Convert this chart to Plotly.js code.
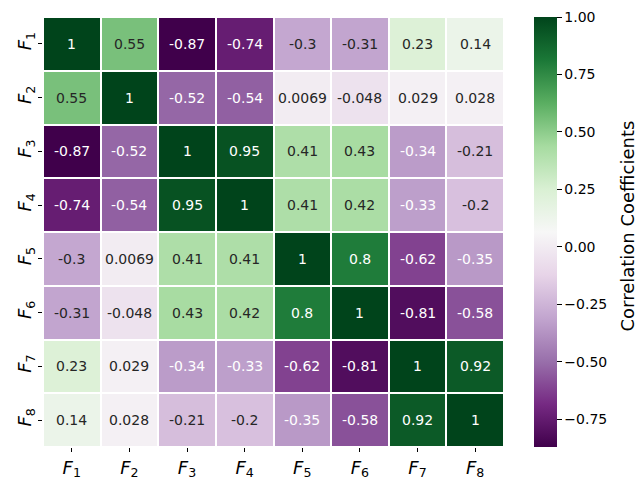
<!DOCTYPE html>
<html>
<head>
<meta charset="utf-8">
<script src="https://cdn.plot.ly/plotly-3.0.1.min.js"></script>
<style>html,body{margin:0;padding:0;background:#fff;}#chart{width:637px;height:481px;}</style>
</head>
<body>
<div id="chart"></div>
<script>
const labels = ["<i>F</i><sub>1</sub>","<i>F</i><sub>2</sub>","<i>F</i><sub>3</sub>","<i>F</i><sub>4</sub>","<i>F</i><sub>5</sub>","<i>F</i><sub>6</sub>","<i>F</i><sub>7</sub>","<i>F</i><sub>8</sub>"];
const rowF1 = [1, 0.55, -0.87, -0.74, -0.3, -0.31, 0.23, 0.14];
const rowF2 = [0.55, 1, -0.52, -0.54, 0.0069, -0.048, 0.029, 0.028];
const rowF3 = [-0.87, -0.52, 1, 0.95, 0.41, 0.43, -0.34, -0.21];
const rowF4 = [-0.74, -0.54, 0.95, 1, 0.41, 0.42, -0.33, -0.2];
const rowF5 = [-0.3, 0.0069, 0.41, 0.41, 1, 0.8, -0.62, -0.35];
const rowF6 = [-0.31, -0.048, 0.43, 0.42, 0.8, 1, -0.81, -0.58];
const rowF7 = [0.23, 0.029, -0.34, -0.33, -0.62, -0.81, 1, 0.92];
const rowF8 = [0.14, 0.028, -0.21, -0.2, -0.35, -0.58, 0.92, 1];
const z = [rowF1,rowF2,rowF3,rowF4,rowF5,rowF6,rowF7,rowF8];
const cbTicks = [-0.75,-0.5,-0.25,0,0.25,0.5,0.75,1.0];
const cbTitle = "Correlation Coefficients";

const prgn = ["#40004b","#762a83","#9970ab","#c2a5cf","#e7d4e8","#f7f7f7","#d9f0d3","#a6dba0","#5aae61","#1b7837","#00441b"];
const colorscale = prgn.map((c,i)=>[i/(prgn.length-1), c]);

let zmin = Infinity, zmax = -Infinity;
z.forEach(r=>r.forEach(v=>{zmin=Math.min(zmin,v);zmax=Math.max(zmax,v);}));

function hex(c){return [1,3,5].map(k=>parseInt(c.substr(k,2),16));}
function colorAt(v){
  let t=(v-zmin)/(zmax-zmin); t=Math.max(0,Math.min(1,t));
  const p=t*(prgn.length-1); const i=Math.min(Math.floor(p),prgn.length-2); const f=p-i;
  const a=hex(prgn[i]), b=hex(prgn[i+1]);
  return a.map((x,k)=>x+(b[k]-x)*f);
}
function lum(rgb){
  const c=rgb.map(x=>{x/=255;return x<=0.03928?x/12.92:Math.pow((x+0.055)/1.055,2.4);});
  return 0.2126*c[0]+0.7152*c[1]+0.0722*c[2];
}
function fmt(v){return String(Number(v.toPrecision(2)));}

const annotations=[];
z.forEach((row,i)=>row.forEach((v,j)=>{
  annotations.push({x:labels[j],y:labels[i],xref:'x',yref:'y',text:fmt(v),showarrow:false,
    font:{family:'DejaVu Sans',size:14,color:lum(colorAt(v))>0.408?'#262626':'#ffffff'}});
}));
annotations.push({xref:'paper',yref:'paper',x:1.268,y:0.514,xanchor:'center',yanchor:'middle',
  text:cbTitle,textangle:-90,showarrow:false,font:{family:'DejaVu Sans',size:18,color:'#000'}});

const trace={type:'heatmap',z:z,x:labels,y:labels,colorscale:colorscale,zmin:zmin,zmax:zmax,
  xgap:2,ygap:2,hoverinfo:'none',
  colorbar:{x:1.0651,xanchor:'left',xpad:0,ypad:0,y:0.5,yanchor:'middle',len:1,lenmode:'fraction',
    thickness:23,outlinewidth:0,tickvals:cbTicks,tickformat:'.2f',tickprefix:'\u00a0',ticks:'outside',ticklen:5,tickwidth:1,
    tickcolor:'#000',tickfont:{family:'DejaVu Sans',size:14,color:'#000'}}};

const layout={width:637,height:481,margin:{l:43,r:133,t:17,b:34,pad:0},
  paper_bgcolor:'#fff',plot_bgcolor:'#fff',showlegend:false,
  xaxis:{type:'category',showgrid:false,zeroline:false,ticks:'outside',ticklen:4,tickwidth:1,tickcolor:'#000',
    tickfont:{family:'DejaVu Sans',size:18,color:'#000'},showline:false},
  yaxis:{type:'category',autorange:'reversed',showgrid:false,zeroline:false,ticks:'outside',ticklen:4,tickwidth:1,tickcolor:'#000',
    tickangle:-90,tickfont:{family:'DejaVu Sans',size:18,color:'#000'},showline:false},
  annotations:annotations};

Plotly.newPlot('chart',[trace],layout,{staticPlot:true,displayModeBar:false});
</script>
</body>
</html>
